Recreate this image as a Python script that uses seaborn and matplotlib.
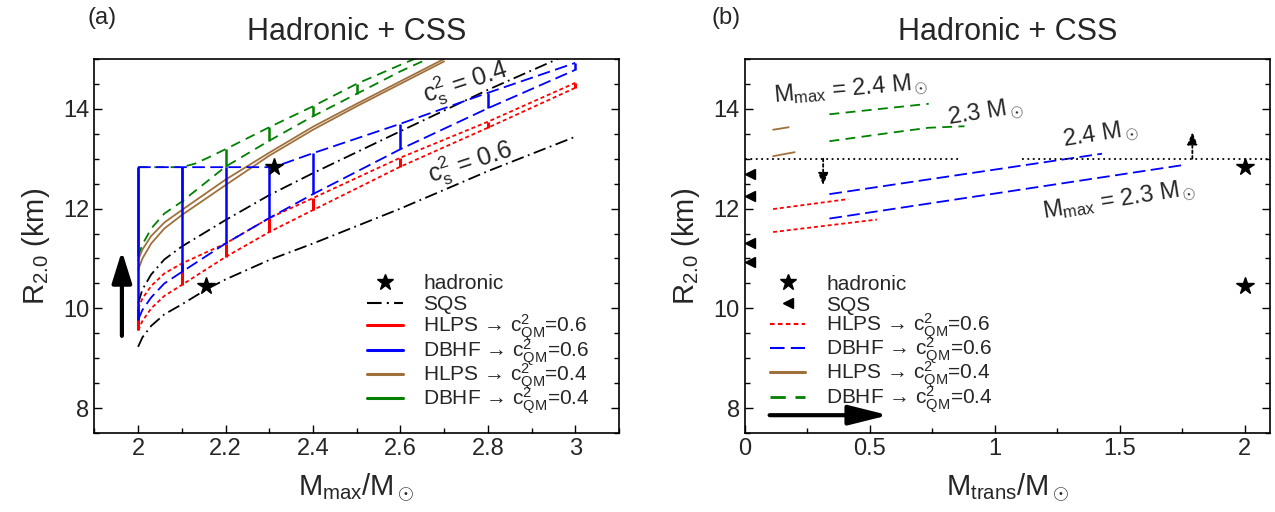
import numpy as np
import matplotlib
matplotlib.use("Agg")
import matplotlib.pyplot as plt
import seaborn as sns
from matplotlib.lines import Line2D
from matplotlib.ticker import MultipleLocator, FormatStrFormatter

sns.set_theme(style="ticks")
plt.rcParams['font.family'] = ['Liberation Sans', 'DejaVu Sans']
plt.rcParams['mathtext.fontset'] = 'custom'
plt.rcParams['mathtext.rm'] = 'Liberation Sans'
plt.rcParams['mathtext.it'] = 'Liberation Sans:italic'
plt.rcParams['mathtext.bf'] = 'Liberation Sans:bold'

# ---------------- panel (a) data: R_2.0 vs M_max ----------------
sqs_hi_x = [2.0, 2.01, 2.03, 2.06, 2.1, 2.2, 2.3, 2.4, 2.6, 2.8, 2.96]
sqs_hi_y = [10.1, 10.38, 10.68, 10.98, 11.24, 11.77, 12.27, 12.71, 13.55, 14.38, 15.0]
sqs_lo_x = [2.0, 2.01, 2.03, 2.06, 2.1, 2.156, 2.2, 2.3, 2.4, 2.6, 2.8, 3.0]
sqs_lo_y = [9.23, 9.42, 9.65, 9.88, 10.08, 10.38, 10.58, 10.97, 11.3, 12.0, 12.75, 13.44]

hlps06_x = [2.0, 2.01, 2.03, 2.06, 2.1, 2.2, 2.3, 2.4, 2.6, 2.8, 3.0]
hlps06_hi = [10.0, 10.2, 10.45, 10.7, 10.9, 11.3, 11.81, 12.21, 13.02, 13.74, 14.52]
hlps06_lo = [9.56, 9.75, 10.0, 10.25, 10.47, 11.03, 11.53, 11.97, 12.84, 13.62, 14.42]
hlps06_vx = [2.0, 2.1, 2.2, 2.3, 2.4, 2.6, 2.8, 3.0]
hlps06_vlo = [9.56, 10.47, 11.03, 11.53, 11.97, 12.84, 13.62, 14.42]
hlps06_vhi = [10.0, 10.9, 11.3, 11.81, 12.21, 13.02, 13.74, 14.52]

dbhf06_hi_x = [2.0, 2.31, 2.4, 2.6, 2.8, 3.0]
dbhf06_hi_y = [12.83, 12.83, 13.11, 13.7, 14.32, 14.92]
dbhf06_lo_x = [2.0, 2.01, 2.03, 2.06, 2.1, 2.2, 2.3, 2.4, 2.6, 2.8, 3.0]
dbhf06_lo_y = [9.77, 9.97, 10.22, 10.5, 10.73, 11.3, 11.81, 12.29, 13.19, 14.01, 14.78]
dbhf06_vx = [2.0, 2.1, 2.2, 2.3, 2.4, 2.6, 2.8, 3.0]
dbhf06_vlo = [9.77, 10.73, 11.3, 11.81, 12.29, 13.19, 14.01, 14.78]
dbhf06_vhi = [12.83, 12.83, 12.83, 12.83, 13.11, 13.7, 14.32, 14.92]

hlps04_x = [2.0, 2.01, 2.03, 2.06, 2.1, 2.2, 2.3, 2.4, 2.5, 2.6, 2.7]
hlps04_hi = [10.97, 11.18, 11.45, 11.72, 11.97, 12.58, 13.12, 13.64, 14.1, 14.55, 15.0]
hlps04_lo = [10.77, 11.0, 11.3, 11.6, 11.87, 12.47, 13.06, 13.58, 14.05, 14.5, 14.95]

dbhf04_hi_x = [2.0, 2.1, 2.13, 2.16, 2.2, 2.3, 2.4, 2.5, 2.6, 2.7]
dbhf04_hi_y = [12.83, 12.83, 12.9, 13.02, 13.19, 13.63, 14.05, 14.5, 14.88, 15.25]
dbhf04_lo_x = [2.0, 2.01, 2.03, 2.06, 2.1, 2.2, 2.3, 2.4, 2.5, 2.6, 2.7]
dbhf04_lo_y = [11.04, 11.28, 11.6, 11.9, 12.14, 12.84, 13.36, 13.85, 14.3, 14.75, 15.15]
dbhf04_vx = [2.0, 2.1, 2.2, 2.3, 2.4, 2.5]
dbhf04_vlo = [11.04, 12.14, 12.84, 13.36, 13.85, 14.3]
dbhf04_vhi = [12.83, 12.83, 13.19, 13.63, 14.05, 14.5]

had_a_x = [2.156, 2.31]
had_a_y = [10.45, 12.83]

# ---------------- panel (b) data: R_2.0 vs M_trans ----------------
hlps04_b = [([0.114, 0.176], [13.58, 13.63]), ([0.114, 0.2], [13.05, 13.13])]
dbhf04_b = [([0.339, 0.736], [13.89, 14.10]),
            ([0.339, 0.6, 0.736, 0.879], [13.35, 13.53, 13.62, 13.65])]
dbhf06_b = [([0.339, 1.429], [12.29, 13.1]), ([0.339, 1.75], [11.8, 12.87])]
hlps06_b = [([0.114, 0.414], [11.99, 12.19]), ([0.114, 0.529], [11.53, 11.78])]
sqs_b_y = [12.7, 12.25, 11.31, 10.92]
had_b_y = [12.83, 10.45]
r_limit = 13.0

RED, BLUE, BROWN, GREEN = '#ff0000', '#0000ff', '#a0703c', '#008000'
LS_RED = (0, (2.2, 1.6))
LS_BLUE = (0, (7, 3))
LS_GREEN = (0, (5.5, 3.5))
LS_SQS = (0, (7, 2.5, 1, 2.5))
Msun = r'M$_\odot$'
labels = ['hadronic', 'SQS',
          r'HLPS → $\mathrm{c^2_{QM}}$=0.6', r'DBHF → $\mathrm{c^2_{QM}}$=0.6',
          r'HLPS → $\mathrm{c^2_{QM}}$=0.4', r'DBHF → $\mathrm{c^2_{QM}}$=0.4']


def curve(ax, x, y, color, ls, lw=1.3):
    sns.lineplot(x=x, y=y, ax=ax, color=color, linestyle=ls, lw=lw,
                 estimator=None, sort=False, legend=False)


def style_axes(ax):
    for s in ax.spines.values():
        s.set_linewidth(1.2)
        s.set_color('black')
    ax.tick_params(which='both', direction='in', top=False, right=True,
                   labelsize=17, color='black', width=1.0)
    ax.tick_params(which='major', length=6)
    ax.tick_params(which='minor', length=3.5)
    ax.set_ylim(7.5, 15)
    ax.yaxis.set_major_locator(MultipleLocator(2))
    ax.yaxis.set_minor_locator(MultipleLocator(0.5))
    ax.set_ylabel(r'R$_{2.0}$ (km)', fontsize=21, labelpad=8)
    ax.set_title('Hadronic + CSS', fontsize=22, pad=13.5)
    ax.grid(False)


def two_legends(ax, handles, x0, yc1, yc2):
    kw = dict(frameon=False, fontsize=15, handlelength=1.7, handletextpad=1.0,
              borderpad=0, borderaxespad=0, loc='center left')
    l1 = ax.legend(handles[:2], labels[:2], bbox_to_anchor=(x0, yc1),
                   labelspacing=0.1, **kw)
    ax.add_artist(l1)
    ax.legend(handles[2:], labels[2:], bbox_to_anchor=(x0, yc2),
              labelspacing=-0.3, **kw)


fig = plt.figure(figsize=(12.75, 5.12), dpi=100)
ax1 = fig.add_axes([0.074, 0.154, 0.4115, 0.731])
ax2 = fig.add_axes([0.584, 0.154, 0.412, 0.731])

# ---------- panel (a) ----------
curve(ax1, sqs_hi_x, sqs_hi_y, 'black', LS_SQS)
curve(ax1, sqs_lo_x, sqs_lo_y, 'black', LS_SQS)
ax1.vlines(dbhf04_vx, dbhf04_vlo, dbhf04_vhi, color=GREEN, lw=1.8)
curve(ax1, dbhf04_hi_x, dbhf04_hi_y, GREEN, LS_GREEN)
curve(ax1, dbhf04_lo_x, dbhf04_lo_y, GREEN, LS_GREEN)
curve(ax1, hlps04_x, hlps04_hi, BROWN, '-')
curve(ax1, hlps04_x, hlps04_lo, BROWN, '-')
ax1.vlines(hlps06_vx, hlps06_vlo, hlps06_vhi, color=RED, lw=2.2)
curve(ax1, hlps06_x, hlps06_hi, RED, LS_RED)
curve(ax1, hlps06_x, hlps06_lo, RED, LS_RED)
ax1.vlines(dbhf06_vx, dbhf06_vlo, dbhf06_vhi, color=BLUE, lw=1.8)
curve(ax1, dbhf06_hi_x, dbhf06_hi_y, BLUE, LS_BLUE)
curve(ax1, dbhf06_lo_x, dbhf06_lo_y, BLUE, LS_BLUE)
ax1.plot(had_a_x, had_a_y, '*', color='black', ms=13, zorder=5)

ax1.annotate('', xy=(1.963, 11.15), xytext=(1.963, 9.45),
             arrowprops=dict(arrowstyle='-|>,head_length=1.6,head_width=0.5',
                             color='black', lw=3.0, shrinkA=0, shrinkB=0))
ax1.text(2.75, 14.52, r'$\mathrm{c_s^2}$ = 0.4', fontsize=18, rotation=18,
         ha='center', va='center')
ax1.text(2.76, 12.92, r'$\mathrm{c_s^2}$ = 0.6', fontsize=18, rotation=18,
         ha='center', va='center')

ax1.set_xlim(1.9, 3.1)
ax1.xaxis.set_major_locator(MultipleLocator(0.2))
ax1.xaxis.set_minor_locator(MultipleLocator(0.1))
ax1.xaxis.set_major_formatter(FormatStrFormatter('%g'))
ax1.set_xlabel(r'M$_{\mathrm{max}}$/' + Msun, fontsize=21, labelpad=8)
style_axes(ax1)

leg_a = [Line2D([], [], ls='none', marker='*', color='black', ms=12),
         Line2D([], [], color='black', ls=LS_SQS, lw=1.5),
         Line2D([], [], color=RED, lw=2.2),
         Line2D([], [], color=BLUE, lw=2.2),
         Line2D([], [], color=BROWN, lw=2.2),
         Line2D([], [], color=GREEN, lw=2.2)]
two_legends(ax1, leg_a, 0.52, 0.372, 0.183)

# ---------- panel (b) ----------
for xs, ys in hlps04_b:
    curve(ax2, xs, ys, BROWN, '-')
for xs, ys in dbhf04_b:
    curve(ax2, xs, ys, GREEN, LS_GREEN)
for xs, ys in dbhf06_b:
    curve(ax2, xs, ys, BLUE, LS_BLUE)
for xs, ys in hlps06_b:
    curve(ax2, xs, ys, RED, LS_RED)
ax2.hlines([r_limit, r_limit], [0.0, 1.11], [0.86, 2.1], color='black',
           linestyles=(0, (1, 2)), lw=1.3)
ax2.plot([0.02] * len(sqs_b_y), sqs_b_y, '<', color='black', ms=7, clip_on=False, zorder=5)
ax2.plot([2.0] * len(had_b_y), had_b_y, '*', color='black', ms=13, zorder=5)

dotted = dict(arrowstyle='-|>,head_length=0.6,head_width=0.25', color='black',
              lw=1.3, linestyle=(0, (1.5, 1.5)), shrinkA=0, shrinkB=0)
ax2.annotate('', xy=(0.314, 12.47), xytext=(0.314, r_limit), arrowprops=dotted)
ax2.annotate('', xy=(1.79, 13.53), xytext=(1.79, r_limit), arrowprops=dotted)
ax2.annotate('', xy=(0.575, 7.86), xytext=(0.1, 7.86),
             arrowprops=dict(arrowstyle='-|>,head_length=2.0,head_width=0.5',
                             color='black', lw=3.0, shrinkA=0, shrinkB=0))

ax2.text(0.424, 14.37, r'M$_{\mathrm{max}}$ = 2.4 ' + Msun, fontsize=17, rotation=5,
         ha='center', va='center')
ax2.text(0.964, 13.93, '2.3 ' + Msun, fontsize=17, rotation=9, ha='center', va='center')
ax2.text(1.424, 13.47, '2.4 ' + Msun, fontsize=17, rotation=9, ha='center', va='center')
ax2.text(1.496, 12.17, r'M$_{\mathrm{max}}$ = 2.3 ' + Msun, fontsize=17, rotation=9,
         ha='center', va='center')

ax2.set_xlim(0, 2.1)
ax2.xaxis.set_major_locator(MultipleLocator(0.5))
ax2.xaxis.set_minor_locator(MultipleLocator(0.25))
ax2.xaxis.set_major_formatter(FormatStrFormatter('%g'))
ax2.set_xlabel(r'M$_{\mathrm{trans}}$/' + Msun, fontsize=21, labelpad=8)
style_axes(ax2)

leg_b = [Line2D([], [], ls='none', marker='*', color='black', ms=12),
         Line2D([], [], ls='none', marker='<', color='black', ms=7),
         Line2D([], [], color=RED, ls=LS_RED, lw=1.5),
         Line2D([], [], color=BLUE, ls=LS_BLUE, lw=1.5),
         Line2D([], [], color=BROWN, lw=2.2),
         Line2D([], [], color=GREEN, ls=LS_GREEN, lw=2.0)]
two_legends(ax2, leg_b, 0.048, 0.37, 0.188)

fig.text(0.069, 0.965, '(a)', fontsize=17, ha='left', va='center')
fig.text(0.558, 0.965, '(b)', fontsize=17, ha='left', va='center')

fig.savefig('out.png', dpi=100)
